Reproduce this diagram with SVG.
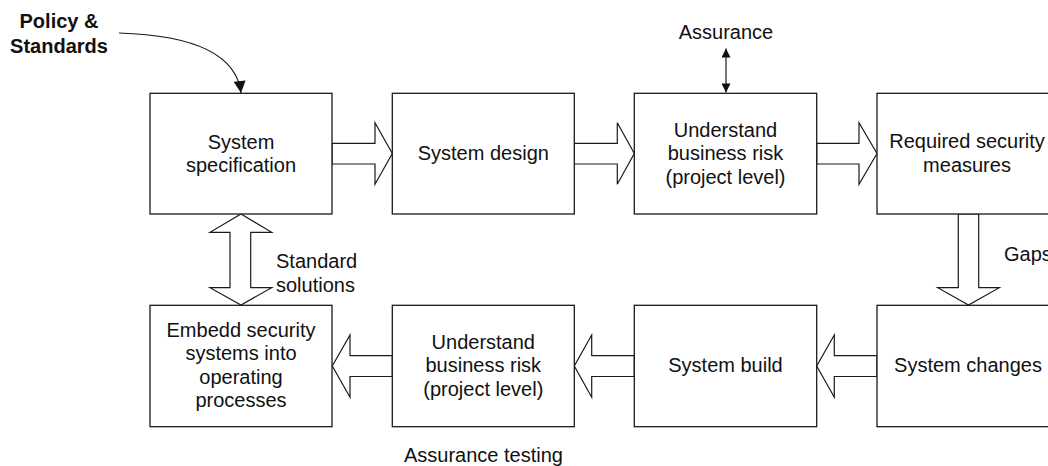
<svg xmlns="http://www.w3.org/2000/svg" width="1048" height="466" viewBox="0 0 1048 466">
  <style>
    .box { fill: #fff; stroke: #1a1a1a; stroke-width: 1.3; }
    .blk { fill: #fff; stroke: #1a1a1a; stroke-width: 1.2; stroke-linejoin: miter; }
    .ln { fill: none; stroke: #1a1a1a; stroke-width: 1.2; }
    text { font-family: "Liberation Sans", Arial, sans-serif; font-size: 20px; fill: #111; }
    .c { text-anchor: middle; }
    .b { font-weight: bold; }
  </style>
  <defs>
    <marker id="ah" viewBox="0 0 10 10" refX="10" refY="5" markerWidth="12" markerHeight="9" markerUnits="userSpaceOnUse" orient="auto-start-reverse">
      <path d="M0,0 L10,5 L0,10 z" fill="#111"/>
    </marker>
    <marker id="ahc" viewBox="0 0 10 10" refX="10" refY="5" markerWidth="14" markerHeight="12" markerUnits="userSpaceOnUse" orient="auto">
      <path d="M0,0 L10,5 L0,10 z" fill="#111"/>
    </marker>
  </defs>

  <!-- connectors -->
  <g id="connectors">
    <!-- policy input -->
    <path class="ln" d="M119,33 C185,35 236,50 241,93" marker-end="url(#ahc)"/>
    <!-- assurance two-way link -->
    <line class="ln" x1="726" y1="48.5" x2="726" y2="92.5" marker-start="url(#ah)" marker-end="url(#ah)"/>
    <!-- top row block arrows (rightwards) -->
    <polygon class="blk" points="332,143.3 375,143.3 375,122.7 392.3,153.5 375,184.3 375,164 332,164"/>
    <polygon class="blk" points="574.3,143.3 617.3,143.3 617.3,122.7 634.3,153.5 617.3,184.3 617.3,164 574.3,164"/>
    <polygon class="blk" points="816.7,143.3 859,143.3 859,122.7 877,153.5 859,184.3 859,164 816.7,164"/>
    <!-- gaps (downwards) -->
    <polygon class="blk" points="958.3,214 978.7,214 978.7,287.7 999.3,287.7 968.5,305 937.7,287.7 958.3,287.7"/>
    <!-- bottom row block arrows (leftwards) -->
    <polygon class="blk" points="877,355.7 834.3,355.7 834.3,335 816.7,366 834.3,397.3 834.3,376.5 877,376.5"/>
    <polygon class="blk" points="634.3,355.7 591.7,355.7 591.7,335 574.3,366 591.7,397.3 591.7,376.5 634.3,376.5"/>
    <polygon class="blk" points="392.3,355.7 350,355.7 350,335 332.3,366 350,397.3 350,376.5 392.3,376.5"/>
    <!-- standard solutions (two-way) -->
    <polygon class="blk" points="241,214 271.7,232.3 250.7,232.3 250.7,287.7 271.7,287.7 241,305 210,287.7 230,287.7 230,232.3 210,232.3"/>
  </g>

  <text class="b c" x="59" y="28">Policy &amp;</text>
  <text class="b c" x="59" y="52.5">Standards</text>
  <text class="c" x="726" y="38.5">Assurance</text>
  <text x="1004" y="260.5">Gaps</text>
  <text x="276" y="268">Standard</text>
  <text x="276" y="291.5">solutions</text>
  <text class="c" x="483.5" y="461.5">Assurance testing</text>

  <g id="spec">
    <rect class="box" x="150" y="93.3" width="182" height="120.7"/>
    <text class="c" x="241" y="148.5">System</text>
    <text class="c" x="241" y="172">specification</text>
  </g>
  <g id="design">
    <rect class="box" x="392.3" y="93.3" width="182" height="120.7"/>
    <text class="c" x="483.3" y="160.3">System design</text>
  </g>
  <g id="risk-top">
    <rect class="box" x="634.3" y="93.3" width="182.4" height="120.7"/>
    <text class="c" x="725.5" y="136.5">Understand</text>
    <text class="c" x="725.5" y="160">business risk</text>
    <text class="c" x="725.5" y="183.5">(project level)</text>
  </g>
  <g id="measures">
    <rect class="box" x="877" y="93.3" width="182" height="120.7"/>
    <text class="c" x="967" y="148">Required security</text>
    <text class="c" x="967" y="171.5">measures</text>
  </g>
  <g id="changes">
    <rect class="box" x="877" y="305.3" width="182" height="121.4"/>
    <text class="c" x="968" y="372">System changes</text>
  </g>
  <g id="build">
    <rect class="box" x="634.3" y="305.3" width="182.4" height="121.4"/>
    <text class="c" x="725.5" y="372">System build</text>
  </g>
  <g id="risk-bottom">
    <rect class="box" x="392.3" y="305.3" width="182" height="121.4"/>
    <text class="c" x="483.3" y="348.5">Understand</text>
    <text class="c" x="483.3" y="372">business risk</text>
    <text class="c" x="483.3" y="395.5">(project level)</text>
  </g>
  <g id="embed">
    <rect class="box" x="150" y="305.3" width="182" height="121.4"/>
    <text class="c" x="241" y="336.5">Embedd security</text>
    <text class="c" x="241" y="360">systems into</text>
    <text class="c" x="241" y="383.5">operating</text>
    <text class="c" x="241" y="407">processes</text>
  </g>
</svg>
